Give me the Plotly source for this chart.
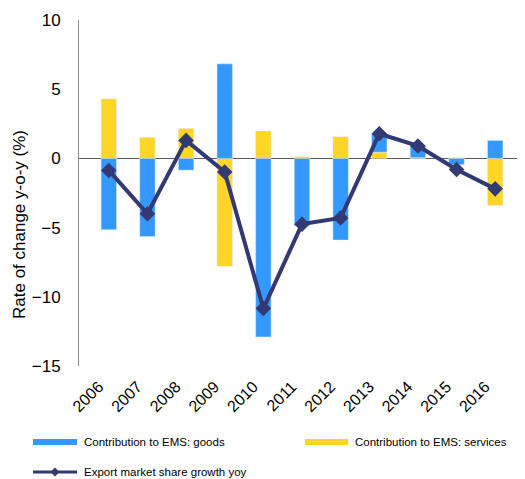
import plotly.graph_objects as go

years = ["2006", "2007", "2008", "2009", "2010", "2011", "2012", "2013", "2014", "2015", "2016"]
goods = [-5.15, -5.65, -0.85, 6.83, -12.9, -4.85, -5.9, 1.3, 0.85, -0.45, 1.3]
services = [4.3, 1.52, 2.17, -7.8, 1.98, 0.12, 1.57, 0.45, 0.05, 0.05, -3.4]
ems_growth = [-0.87, -4.0, 1.3, -0.98, -10.85, -4.75, -4.3, 1.78, 0.9, -0.8, -2.2]

legend_names = ["Contribution to EMS: goods", "Contribution to EMS: services",
                "Export market share growth yoy"]

BLUE = "#3399FF"
YELLOW = "#FFD528"
NAVY = "#333A73"
FONT = "Liberation Sans, Arial, sans-serif"

OFF = 8  # page body margin
W, H = 525 - OFF, 479 - OFF
ML, MR, MT, MB = 79 - OFF, 0, 20 - OFF, 479 - 366
PW, PH = W - ML - MR, H - MT - MB


def px(x):
    return (x - OFF - ML) / PW


def py(y):
    return (H - MB - (y - OFF)) / PH


fig = go.Figure()
fig.add_trace(go.Bar(x=years, y=services, marker_color=YELLOW, width=0.4,
                     showlegend=False, name=legend_names[1]))
fig.add_trace(go.Bar(x=years, y=goods, marker_color=BLUE, width=0.4,
                     showlegend=False, name=legend_names[0]))
fig.add_trace(go.Scatter(x=years, y=ems_growth, mode="lines+markers",
                         line=dict(color=NAVY, width=4),
                         marker=dict(symbol="diamond", size=12, color=NAVY),
                         showlegend=False, name=legend_names[2]))

# manual legend (swatches + text)
shapes = []
annotations = []
legend_items = [
    (legend_names[0], BLUE, 6, 33, 77, 442, False),
    (legend_names[1], YELLOW, 6, 305, 348, 442, False),
    (legend_names[2], NAVY, 3, 33, 77, 472, True),
]
for name, col, lw, x0, x1, yy, diamond in legend_items:
    shapes.append(dict(type="line", xref="paper", yref="paper",
                       x0=px(x0), x1=px(x1), y0=py(yy), y1=py(yy),
                       line=dict(color=col, width=lw)))
    if diamond:
        cx, cy, r = (x0 + x1) / 2, yy, 4.5
        path = (f"M {px(cx - r)},{py(cy)} L {px(cx)},{py(cy - r)} "
                f"L {px(cx + r)},{py(cy)} L {px(cx)},{py(cy + r)} Z")
        shapes.append(dict(type="path", xref="paper", yref="paper", path=path,
                           fillcolor=col, line=dict(color=col, width=0)))
    annotations.append(dict(text=name, xref="paper", yref="paper",
                            x=px(x1 + 5), y=py(yy), xanchor="left", yanchor="middle",
                            showarrow=False, font=dict(size=11.5)))

annotations.append(dict(text="Rate of change y-o-y (%)", xref="paper", yref="paper",
                        x=px(20), y=py(225), xanchor="center", yanchor="middle",
                        textangle=-90, showarrow=False, font=dict(size=17)))

fig.update_layout(
    width=W, height=H,
    margin=dict(l=ML, r=MR, t=MT, b=MB),
    paper_bgcolor="white", plot_bgcolor="white",
    barmode="relative",
    showlegend=False,
    font=dict(family=FONT, color="#000000"),
    xaxis=dict(type="category", showgrid=False, showline=False, zeroline=False,
               tickangle=-45, tickfont=dict(size=16), ticks="outside",
               ticklen=4, tickcolor="rgba(0,0,0,0)", ticklabelshift=-10,
               automargin=False),
    yaxis=dict(range=[-15, 10], dtick=5, showgrid=False, showline=True,
               linecolor="#8C8C8C", linewidth=1, zeroline=True,
               zerolinecolor="#595959", zerolinewidth=1.3,
               tickfont=dict(size=17), ticks="", ticklabelstandoff=14,
               automargin=False),
    shapes=shapes,
    annotations=annotations,
)

fig.write_html("out.html")
